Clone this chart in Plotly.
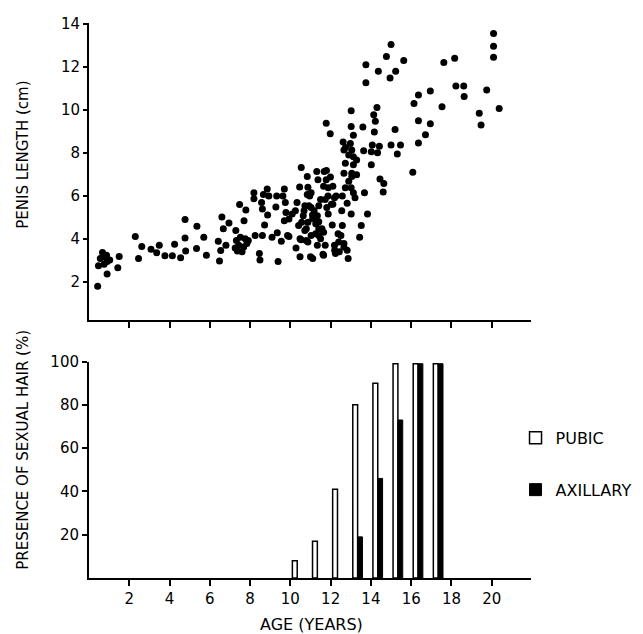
import plotly.graph_objects as go

# top panel: penis length (cm) vs age (years)
age = [0.43, 0.47, 0.67, 0.56, 0.78, 0.90, 0.75, 1.03, 0.90, 0.87, 1.50, 1.43, 2.30, 2.46, 2.62,
       3.08, 3.36, 3.49, 3.77, 4.14, 4.25, 4.55, 4.77, 4.77, 4.80, 5.36, 5.34, 5.70, 5.83, 6.60,
       6.67, 6.42, 6.54, 6.48, 6.80,
       6.95, 7.48, 7.79, 7.70, 7.29, 7.32, 7.52, 7.76, 7.91, 7.44, 7.68, 7.84, 7.37, 7.60, 7.26,
       8.25, 8.46, 8.49, 8.61, 8.72, 8.19, 8.19, 8.57, 8.66, 8.85, 8.93, 8.61, 8.87, 9.09, 9.35,
       9.32, 9.28, 9.39, 9.55, 9.70, 9.63, 9.75, 9.78, 9.70, 9.93, 9.93, 10.33, 10.25, 10.46, 10.54,
       10.84, 10.87, 10.68, 10.56, 10.41, 10.79, 10.53, 10.79, 10.28, 10.48, 11.00, 10.64, 10.92, 10.96, 10.09,
       11.31, 11.68, 11.37, 11.78, 11.99, 11.03, 10.84, 11.65, 11.88, 12.11, 11.50, 11.73, 11.87, 12.27, 12.11,
       11.81, 11.41, 11.18, 11.03, 10.72, 11.11, 11.34, 11.26, 10.87, 10.72, 11.03, 11.41, 11.65, 11.50, 11.26,
       10.87, 11.73, 12.08, 12.58, 12.55, 13.02, 12.82, 12.58, 12.73, 12.90, 12.66, 13.05, 12.73, 12.90, 12.66,
       13.05, 12.51, 12.40, 12.20, 12.43, 12.66, 12.82, 12.87, 12.24, 11.62, 11.11,
       13.64, 14.02, 14.33, 15.31, 13.13, 13.29, 14.02, 13.13, 13.29, 13.05, 14.45, 14.64, 14.61, 13.68, 13.02,
       13.13, 13.21, 13.83, 13.52, 13.44,
       15.00, 14.77, 15.63, 15.23, 14.95, 14.37, 13.75, 13.75, 14.30, 14.14, 14.22, 13.02, 13.02, 13.60, 14.17,
       15.20, 13.13, 12.62, 12.98, 12.74, 14.07, 14.42, 15.00, 15.47,
       20.09, 20.09, 20.09, 18.16, 17.62, 18.22, 18.61, 18.63, 19.75, 20.37, 19.38, 19.47, 17.53, 16.95, 16.36,
       16.14, 16.36, 16.95, 16.71, 16.36, 16.08,
       11.78, 11.98, 9.86, 11.65, 12.37, 12.66, 12.19, 11.34, 10.48, 11.41, 11.57, 11.10, 11.41, 11.88, 12.04,
       12.19, 11.79]
length = [1.78, 2.74, 3.36, 3.08, 3.16, 2.93, 2.81, 3.00, 2.35, 3.23, 3.17, 2.65, 4.10, 3.08, 3.63,
          3.51, 3.34, 3.69, 3.20, 3.20, 3.74, 3.11, 4.89, 4.03, 3.42, 4.58, 3.54, 4.07, 3.23, 5.01,
          4.46, 3.88, 3.45, 2.96, 3.69,
          4.73, 5.59, 5.33, 4.84, 4.38, 3.92, 4.07, 4.00, 3.92, 3.69, 3.61, 3.77, 3.42, 3.39, 3.57,
          4.15, 3.31, 3.00, 4.15, 4.64, 6.14, 5.86, 5.68, 6.06, 6.32, 5.99, 5.38, 5.10, 4.07, 4.27,
          5.99, 5.48, 2.93, 3.88, 6.32, 5.99, 5.68, 5.22, 4.84, 4.92, 4.10, 5.68, 5.30, 6.41, 7.32,
          6.90, 6.40, 5.30, 4.76, 4.61, 4.46, 3.95, 3.92, 3.57, 3.16, 3.16, 5.07, 5.53, 5.99, 5.15,
          7.13, 7.13, 6.75, 6.75, 6.87, 6.14, 6.06, 6.44, 6.37, 6.44, 5.83, 5.83, 5.99, 5.99, 5.60,
          5.45, 5.53, 5.30, 5.45, 5.53, 4.94, 5.07, 4.69, 4.76, 4.38, 4.15, 4.46, 4.30, 4.00, 4.23,
          3.84, 3.69, 4.64, 4.61, 5.30, 5.15, 5.65, 5.99, 6.37, 6.67, 7.05, 7.05, 7.51, 7.90, 8.13,
          8.13, 4.15, 3.84, 3.46, 3.39, 3.61, 3.46, 3.08, 3.31, 3.27, 3.08,
          8.10, 8.05, 8.00, 7.94, 7.82, 7.67, 7.44, 7.44, 6.98, 6.90, 6.78, 6.57, 6.17, 6.14, 6.37,
          6.14, 5.91, 5.15, 4.61, 4.07,
          13.05, 12.49, 12.30, 11.80, 11.49, 11.80, 12.10, 11.26, 10.11, 9.78, 9.47, 9.96, 9.23, 9.20, 8.97,
          9.09, 8.82, 8.51, 8.43, 8.25, 8.36, 8.31, 8.36, 8.36,
          13.56, 12.97, 12.45, 12.41, 12.21, 11.11, 11.11, 10.62, 10.93, 10.07, 9.85, 9.30, 10.15, 10.88, 10.69,
          10.30, 9.50, 9.35, 8.84, 8.46, 7.10,
          9.38, 8.89, 4.15, 3.23, 4.23, 3.77, 3.69, 3.69, 4.00, 4.15, 4.46, 5.10, 4.79, 5.15, 5.60,
          5.91, 7.18]

# bottom panel: presence of sexual hair (%) by year of age
pubic_age = [10, 11, 12, 13, 14, 15, 16, 17]
pubic_pct = [8, 17, 41, 80, 90, 99, 99, 99]
axillary_age = [13, 14, 15, 16, 17]
axillary_pct = [19, 46, 73, 99, 99]

font = "DejaVu Sans"
fig = go.Figure()

fig.add_trace(go.Scatter(x=age, y=length, mode="markers", showlegend=False,
                         marker=dict(color="black", size=7), xaxis="x", yaxis="y"))

fig.add_trace(go.Bar(x=pubic_age, y=pubic_pct, name="PUBIC", offset=0.1, width=0.24,
                     marker=dict(color="white", line=dict(color="black", width=1.5)),
                     xaxis="x2", yaxis="y2", legendgroup="p"))
fig.add_trace(go.Bar(x=axillary_age, y=axillary_pct, name="AXILLARY", offset=0.34, width=0.24,
                     marker=dict(color="black", line=dict(color="black", width=1)),
                     xaxis="x2", yaxis="y2", legendgroup="a"))

ax = dict(showgrid=False, zeroline=False, showline=True, linecolor="black", linewidth=2,
          ticks="outside", tickcolor="black", tickwidth=1.5,
          tickfont=dict(family=font, size=15, color="black"))

# page body has an 8px margin, so the figure is 8px smaller than the window
fig.update_layout(
    width=635, height=626,
    margin=dict(l=81, r=84, t=6, b=56),
    paper_bgcolor="white", plot_bgcolor="white",
    barmode="overlay",
    xaxis=dict(ax, domain=[0, 1], range=[0, 21.95], tickvals=list(range(2, 21, 2)),
               showticklabels=False, ticklen=6, anchor="y"),
    yaxis=dict(ax, domain=[0.4645, 1], range=[0.2, 14.05], tickvals=list(range(2, 15, 2)),
               ticklen=4, anchor="x"),
    xaxis2=dict(ax, domain=[0, 1], range=[0, 21.95], tickvals=list(range(2, 21, 2)),
                ticklen=6, anchor="y2"),
    yaxis2=dict(ax, domain=[0, 0.39], range=[0, 100], tickvals=[20, 40, 60, 80, 100],
                ticklen=5, anchor="x2"),
    legend=dict(x=0.965, y=0.283, xanchor="left", yanchor="top", traceorder="grouped",
                tracegroupgap=28, itemwidth=30,
                font=dict(family=font, size=16, color="black")),
    annotations=[
        dict(text="PENIS LENGTH (cm)", textangle=-90, xref="paper", yref="paper",
             x=-0.15, y=0.762, xanchor="center", yanchor="middle", showarrow=False,
             font=dict(family=font, size=15, color="black")),
        dict(text="PRESENCE OF SEXUAL HAIR (%)", textangle=-90, xref="paper", yref="paper",
             x=-0.15, y=0.2305, xanchor="center", yanchor="middle", showarrow=False,
             font=dict(family=font, size=15, color="black")),
        dict(text="AGE (YEARS)", xref="paper", yref="paper", x=0.504, y=-0.083,
             xanchor="center", yanchor="middle", showarrow=False,
             font=dict(family=font, size=16, color="black")),
    ],
)

fig.write_html("out.html")
